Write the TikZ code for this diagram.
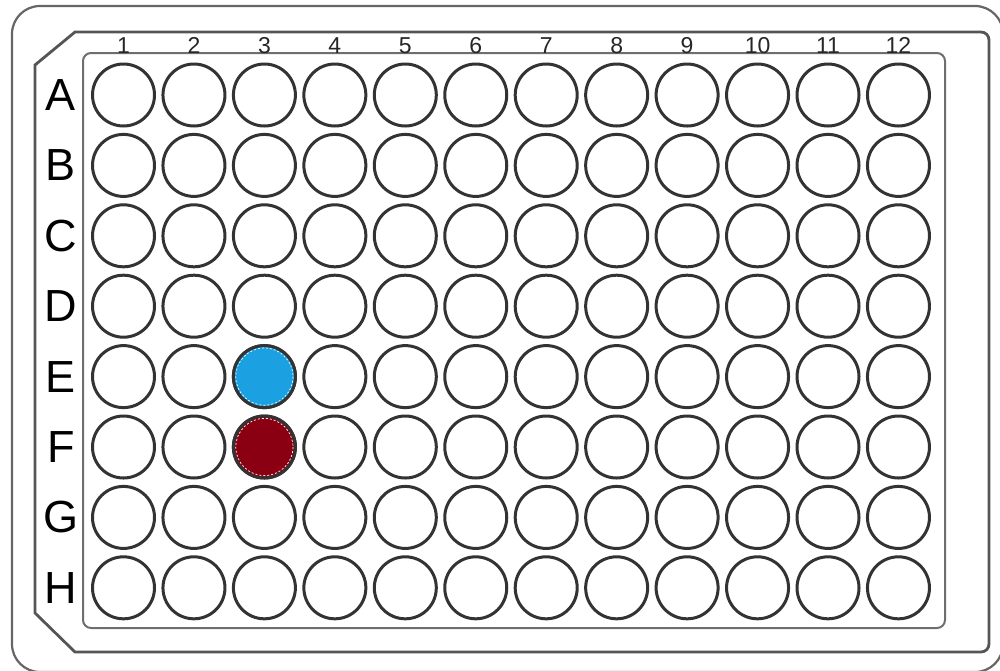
\documentclass[tikz,border=0pt]{standalone}
\usepackage{fontspec}
\setmainfont{Liberation Sans}
\definecolor{wellblue}{HTML}{1BA1E2}
\definecolor{wellred}{HTML}{8A0012}
\definecolor{frame}{HTML}{555555}
\definecolor{ring}{HTML}{333333}
\tikzset{
  well/.style={circle, draw=ring, line width=3pt, minimum size=62pt, inner sep=0pt},
  rowlab/.style={font=\fontsize{45}{45}\selectfont, inner sep=0pt, text=black},
  collab/.style={font=\fontsize{23}{23}\selectfont, inner sep=0pt, text=black!85, anchor=base},
  plateline/.style={draw=frame, line width=2.2pt},
}
\begin{document}
\begin{tikzpicture}[x=1pt,y=-1pt]
\useasboundingbox (0,0) rectangle (1000,670);
\fill[white] (0,0) rectangle (1000,670);
\begin{scope}
\clip (0,0) rectangle (1000,670);
% outer plate
\draw[plateline, draw=frame!90] (12,6) [rounded corners=28] rectangle (1003,672);
\end{scope}
% middle chamfered frame
\draw[plateline, line width=2.8pt] (35,613) -- (35,65) -- (75,32) -- (981,32) arc[start angle=-90,end angle=0,radius=8] -- (989,644) arc[start angle=0,end angle=90,radius=8] -- (75,652) -- cycle;
% inner rectangle
\draw[plateline, draw=frame!85, line width=2pt, rounded corners=8] (83,53) rectangle (945,628);
% wells
\foreach \r [count=\j from 0] in {A,B,C,D,E,F,G,H}{
  \node[rowlab] (row\r) at (61,{95+70.4*\j}) {\r};
  \foreach \c in {1,...,12}{
    \node[well] (w\r\c) at ({123.5+70.45*(\c-1)},{95+70.4*\j}) {};
  }
}
\foreach \c in {1,...,12}{
  \node[collab] (col\c) at ({123.5+70.45*(\c-1)},53) {\c};
}
% coloured wells
\node[well, fill=wellblue] (wE3c) at (wE3) {};
\draw[white, line width=0.7pt, dash pattern=on 2pt off 2pt] (wE3.center) circle (28.6);
\node[well, fill=wellred] (wF3c) at (wF3) {};
\draw[white, line width=0.7pt, dash pattern=on 2pt off 2pt] (wF3.center) circle (28.6);
\end{tikzpicture}
\end{document}
